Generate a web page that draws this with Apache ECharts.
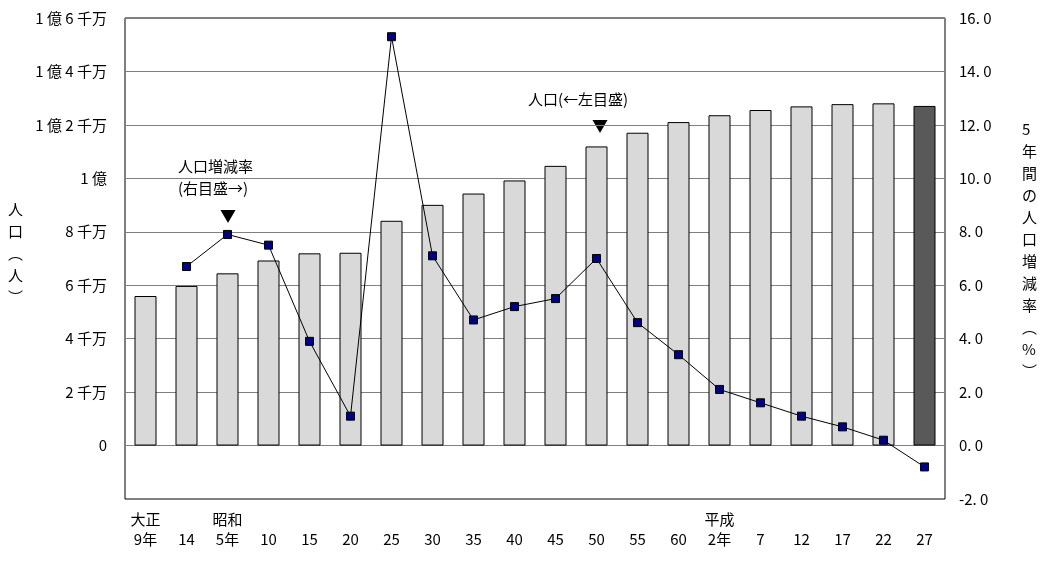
<!DOCTYPE html>
<html>
<head>
<meta charset="utf-8">
<script src="https://cdn.jsdelivr.net/npm/echarts@6/dist/echarts.min.js"></script>
<style>html,body{margin:0;background:#fff}#c{width:1046px;height:563px}</style>
</head>
<body>
<div id="c"></div>
<script>
var categories = ["大正\n9年", "\n14", "昭和\n5年", "\n10", "\n15", "\n20", "\n25", "\n30", "\n35", "\n40", "\n45", "\n50", "\n55", "\n60", "平成\n2年", "\n7", "\n12", "\n17", "\n22", "\n27"];
var population = [55963, 59737, 64450, 69254, 71933, 72147, 84115, 90077, 94302, 99209, 104665, 111940, 117060, 121049, 123611, 125570, 126926, 127768, 128057, 127095].map(function (v) { return v * 1000; });
var rate = [null, 6.7, 7.9, 7.5, 3.9, 1.1, 15.3, 7.1, 4.7, 5.2, 5.5, 7.0, 4.6, 3.4, 2.1, 1.6, 1.1, 0.7, 0.2, -0.8];
var leftLabels = { "0": "0", "20000000": "2 千万", "40000000": "4 千万", "60000000": "6 千万", "80000000": "8 千万", "100000000": "1 億", "120000000": "1 億 2 千万", "140000000": "1 億 4 千万", "160000000": "1 億 6 千万" };

var font = "Noto Sans CJK JP";
var chart = echarts.init(document.getElementById("c"));
chart.setOption({
  textStyle: { fontFamily: font, color: "#000" },
  animation: false,
  grid: { left: 125, right: 101, top: 18, bottom: 64, show: true, borderColor: "#000", borderWidth: 1 },
  xAxis: {
    type: "category",
    data: categories,
    axisTick: { show: false },
    axisLine: { show: false },
    axisLabel: { color: "#000", fontSize: 15, lineHeight: 20, margin: 10, fontFamily: font }
  },
  yAxis: [
    {
      type: "value", min: -20000000, max: 160000000, interval: 20000000,
      axisLine: { show: false }, axisTick: { show: false },
      splitLine: { lineStyle: { color: "#808080" } },
      axisLabel: { color: "#000", fontSize: 15, margin: 18, formatter: function (v) { return leftLabels[String(v)] || ""; } }
    },
    {
      type: "value", min: -2, max: 16, interval: 2,
      axisLine: { show: false }, axisTick: { show: false }, splitLine: { show: false },
      axisLabel: { color: "#000", fontSize: 15, margin: 14, formatter: function (v) { return v.toFixed(1).replace(".", ". "); } }
    }
  ],
  series: [
    {
      type: "bar", yAxisIndex: 0, barWidth: 22,
      data: population.map(function (v, i) {
        return { value: v, itemStyle: { color: i === population.length - 1 ? "#595959" : "#d9d9d9" } };
      }),
      itemStyle: { borderColor: "#000", borderWidth: 1 }
    },
    {
      type: "line", yAxisIndex: 1, data: rate, connectNulls: false,
      symbol: "rect", symbolSize: 8,
      lineStyle: { color: "#000", width: 1 },
      itemStyle: { color: "#000080", borderColor: "#000", borderWidth: 1 }
    }
  ],
  graphic: [
    { type: "text", left: 8, top: 198, style: { text: "人\n口\n︵\n人\n︶", font: "15px " + font, lineHeight: 22, fill: "#000" } },
    { type: "text", left: 1022, top: 118, style: { text: "5\n年\n間\nの\n人\n口\n増\n減\n率\n︵\n%\n︶", font: "15px " + font, lineHeight: 22, fill: "#000" } },
    { type: "text", left: 178, top: 155, style: { text: "人口増減率\n(右目盛→)", font: "15px " + font, lineHeight: 22, fill: "#000", align: "left" } },
    { type: "text", left: 220, top: 208, style: { text: "▼", font: "16px " + font, fill: "#000" } },
    { type: "text", left: 528, top: 92, style: { text: "人口(←左目盛)", font: "15px " + font, fill: "#000" } },
    { type: "text", left: 592, top: 118, style: { text: "▼", font: "16px " + font, fill: "#000" } }
  ]
});
</script>
</body>
</html>
